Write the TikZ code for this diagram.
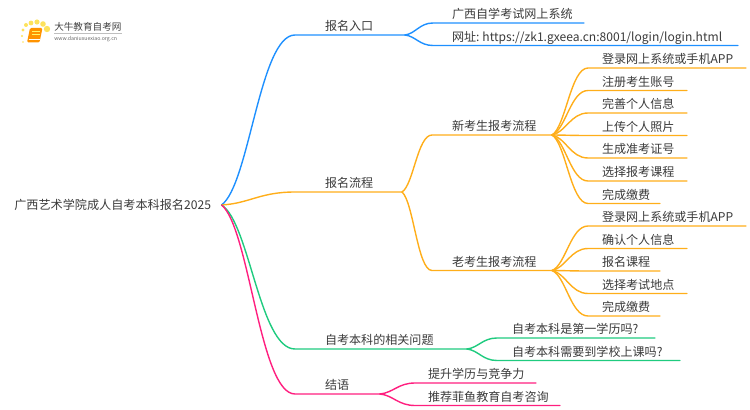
\documentclass[tikz,border=0pt]{standalone}
\usepackage{fontspec}
\setmainfont{Noto Sans CJK SC}
\usetikzlibrary{calc}
\definecolor{cblue}{HTML}{1E90FF}
\definecolor{corange}{HTML}{FFAE1A}
\definecolor{cgreen}{HTML}{1FCB7F}
\definecolor{cpink}{HTML}{FF1F7F}
\definecolor{ctext}{HTML}{3A3A3A}
\tikzset{
  mmlabel/.style={inner sep=0pt,outer sep=0pt,anchor=south west,align=left,text depth=3.1pt,text height=8.2pt,font=\fontsize{9.05pt}{9pt}\selectfont,text=ctext},
  branch/.style={line width=1.05pt,line cap=round},
  logodot/.style={fill=yellow!70!orange,opacity=.65}
}
% name, x of underline start, x of text, x of underline end, y of underline, text
\newcommand\mmn[6]{%
  \pgfmathsetlengthmacro\mmw{(#4-#2)*0.75pt}%
  \pgfmathsetlengthmacro\mmi{(#3-#2)*0.75pt}%
  \node[mmlabel,text width=\mmw] (#1) at (#2,#5) {\hspace*{\mmi}#6};}
% from, to, colour
\newcommand\mmc[3]{%
  \draw[branch,#3] let \p1=(#1),\p2=(#2.south west) in (\p1)
    .. controls ({\x1+.38*(\x2-\x1)},{\y1+.12*(\y2-\y1)}) and ({\x1+.52*(\x2-\x1)},\y2) .. (\p2)
    -- (#2.south east);}
\begin{document}
\begin{tikzpicture}[x=0.75pt,y=-0.75pt]
\useasboundingbox (0,0) rectangle (750,410);
% logo
\foreach \x/\y/\s in {23/42/.9,22/36/1.2,23/30/1.6,26/25/2,31/23/2.4,37/22/2.6,43/24/2.8,47/29/3.2}{
  \fill[logodot] (\x,\y) circle (\s);}
\fill[orange!85!yellow,rounded corners=1pt] (30,28) -- (42.5,28) -- (39.5,42.5) -- (27,42.5) -- cycle;
\draw[white,line width=.5pt] (28.5,39.5) -- (39.5,39.5);
\draw[yellow!60,line width=.5pt] (32,31.5) -- (40,31.5) (31.5,34) -- (39.5,34);
\node[inner sep=0pt,anchor=west,text=black!75,font=\fontsize{7.2pt}{7.4pt}\selectfont] (logoa) at (54,27) {大牛教育自考网};
\node[inner sep=0pt,anchor=west,text=black!60,font=\fontsize{3.9pt}{4pt}\selectfont] (logob) at (54,39) {www.daniuxuexiao.org.cn};
\draw[black!25,line width=.4pt] (54,33) -- (122,33);
% root
\node[inner sep=0pt,anchor=west,text width={207*0.75pt},align=left,font=\fontsize{9.1pt}{9pt}\selectfont,text=ctext] (root) at (14,205) {广西艺术学院成人自考本科报名2025};
% level 1
\mmn{a}{295}{325}{405}{35}{报名入口}
\mmn{b}{295}{325}{402}{192}{报名流程}
\mmn{c}{295}{325}{467}{349}{自考本科的相关问题}
\mmn{d}{295}{325}{380}{394}{结语}
\mmc{root.east}{a}{cblue}
\mmc{root.east}{b}{corange}
\mmc{root.east}{c}{cgreen}
\mmc{root.east}{d}{cpink}
% blue
\mmn{a1}{433}{452}{584}{23}{广西自学考试网上系统}
\mmn{a2}{433}{452}{738}{45.5}{网址:\hspace{-.25em} https://zk1.gxeea.cn:8001/login/login.html}
\mmc{a.south east}{a1}{cblue}
\mmc{a.south east}{a2}{cblue}
% orange
\mmn{b1}{432}{452}{552}{135}{新考生报考流程}
\mmn{b2}{432}{452}{552}{270.5}{老考生报考流程}
\mmc{b.south east}{b1}{corange}
\mmc{b.south east}{b2}{corange}
\mmn{n1}{588}{602}{746}{68}{登录网上系统或手机APP}
\mmn{n2}{588}{602}{687}{90.5}{注册考生账号}
\mmn{n3}{588}{602}{687}{113}{完善个人信息}
\mmn{n4}{588}{602}{687}{135.5}{上传个人照片}
\mmn{n5}{588}{602}{687}{158}{生成准考证号}
\mmn{n6}{588}{602}{687}{181}{选择报考课程}
\mmn{n7}{588}{602}{660}{203.5}{完成缴费}
\foreach \k in {1,...,7}{\mmc{b1.south east}{n\k}{corange}}
\mmn{o1}{588}{602}{746}{226}{登录网上系统或手机APP}
\mmn{o2}{588}{602}{687}{248.5}{确认个人信息}
\mmn{o3}{588}{602}{660}{271}{报名课程}
\mmn{o4}{588}{602}{687}{293.5}{选择考试地点}
\mmn{o5}{588}{602}{660}{316}{完成缴费}
\foreach \k in {1,...,5}{\mmc{b2.south east}{o\k}{corange}}
% green
\mmn{c1}{497}{512}{655}{338}{自考本科是第一学历吗?}
\mmn{c2}{497}{512}{680}{360.5}{自考本科需要到学校上课吗?}
\mmc{c.south east}{c1}{cgreen}
\mmc{c.south east}{c2}{cgreen}
% pink
\mmn{d1}{415}{428}{536}{383}{提升学历与竞争力}
\mmn{d2}{415}{428}{560}{405.5}{推荐菲鱼教育自考咨询}
\mmc{d.south east}{d1}{cpink}
\mmc{d.south east}{d2}{cpink}
\end{tikzpicture}
\end{document}
